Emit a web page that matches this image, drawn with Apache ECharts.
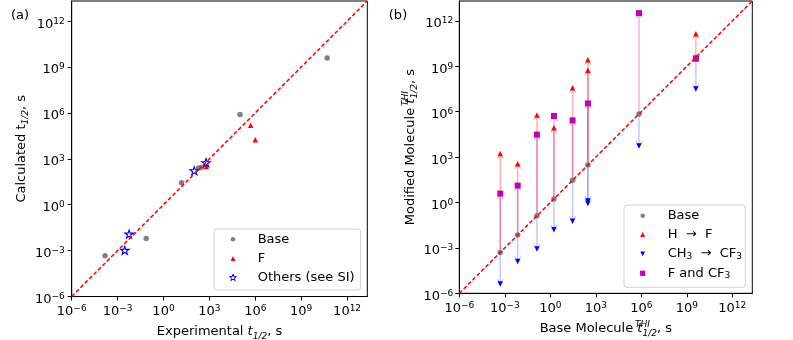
<!DOCTYPE html>
<html>
<head>
<meta charset="utf-8">
<script src="https://cdn.jsdelivr.net/npm/echarts@6/dist/echarts.min.js"></script>
<style>
  html, body { margin: 0; padding: 0; background: #fff; }
  #chart { width: 793px; height: 340px; }
</style>
</head>
<body>
<div id="chart"></div>
<script>
// every value is log10 of a half-life in seconds

// (a) experimental vs calculated t1/2
const aBaseX = [-3.82, -1.13, 1.18, 2.3, 2.47, 5.0, 10.7];
const aBaseY = [-3.33, -2.2, 1.44, 2.4, 2.44, 5.9, 9.6];
const aFX = [2.8, 5.7, 6.0];
const aFY = [2.5, 5.2, 4.25];
const aOthersX = [-2.53, -2.25, 2.01, 2.78];
const aOthersY = [-2.98, -1.92, 2.22, 2.75];

// (b) base molecule vs modified molecule (THI)
const bBase = [-3.3, -2.15, -0.88, 0.24, 1.47, 2.48, 5.85, 9.6];
const bHFX = [-3.3, -2.15, -0.88, 0.24, 1.47, 2.48, 2.48, 9.6];
const bHFY = [3.24, 2.57, 5.79, 4.95, 7.59, 9.43, 8.75, 11.16];
const bCF3X = [-3.3, -2.15, -0.88, 0.24, 1.47, 2.48, 2.48, 5.85, 9.6];
const bCF3Y = [-5.38, -3.9, -3.07, -1.8, -1.23, -0.07, 0.1, 3.73, 7.5];
const bBothX = [-3.3, -2.15, -0.88, 0.24, 1.47, 2.48, 5.85, 9.6];
const bBothY = [0.59, 1.12, 4.49, 5.72, 5.43, 6.55, 12.52, 9.5];

const tickExps = [-6, -3, 0, 3, 6, 9, 12];
const aLegendLabels = ['Base', 'F', 'Others (see SI)'];
const bLegendLabels = ['Base', 'H  \u2192  F', 'CH{s|3}  \u2192  CF{s|3}', 'F and CF{s|3}'];

const axisMin = -6;
const axisMax = 13.32;

const font = 'DejaVu Sans';
const fs = 13;
const pair = (xs, ys) => xs.map((x, i) => [x, ys[i]]);

const triUp = 'path://M0,0L1,2L-1,2Z';
const triDown = 'path://M-1,0L1,0L0,2Z';
const square = 'path://M0,0L1,0L1,1L0,1Z';
const starPts = [[0, -10], [2.245, -3.09], [9.51, -3.09], [3.633, 1.18], [5.88, 8.09], [0, 3.82],
  [-5.88, 8.09], [-3.633, 1.18], [-9.51, -3.09], [-2.245, -3.09]];
const star = 'path://M' + starPts.map(p => p.join(',')).join('L') + 'Z';

const colors = { base: '#808080', f: '#ff0000', cf3: '#0000ff', both: '#bf00bf', others: '#0000ff' };

function powLabel(v) {
  const e = Math.round(v);
  return '{b|10}{e|' + (e < 0 ? '\u2212' + (-e) : String(e)) + '}';
}
const tickRich = {
  b: { fontFamily: font, fontSize: fs, lineHeight: 16, padding: [6, 0, 0, 0], color: '#000' },
  e: { fontFamily: font, fontSize: 9, lineHeight: 16, color: '#000' }
};
const nameRich = {
  it: { fontFamily: font, fontSize: fs, fontStyle: 'italic', lineHeight: 18, color: '#000' },
  sub: { fontFamily: font, fontSize: 9, fontStyle: 'italic', verticalAlign: 'bottom', lineHeight: 18, color: '#000' },
  sup: { fontFamily: font, fontSize: 9, fontStyle: 'italic', verticalAlign: 'top', lineHeight: 18, width: 0, align: 'left', color: '#000' }
};

function axis(gridIndex, name, nameGap, labelMargin) {
  return {
    type: 'value', gridIndex: gridIndex, min: axisMin, max: axisMax,
    name: name, nameLocation: 'middle', nameGap: nameGap,
    nameTextStyle: { fontFamily: font, fontSize: fs, lineHeight: 18, color: '#000', rich: nameRich },
    axisLine: { show: true, onZero: false, lineStyle: { color: '#000', width: 1 } },
    axisTick: { show: true, length: 4, customValues: tickExps, lineStyle: { color: '#000', width: 1 } },
    axisLabel: { customValues: tickExps, formatter: powLabel, rich: tickRich, margin: labelMargin, fontFamily: font, fontSize: fs, color: '#000' },
    splitLine: { show: false }
  };
}

function arrowRender(color) {
  return function (params, api) {
    const x = api.value(0);
    const p0 = api.coord([x, x]);
    const p1 = api.coord([x, api.value(1)]);
    const dir = p1[1] > p0[1] ? 1 : -1;
    const h = 5, w = 3.2;
    return {
      type: 'group',
      children: [
        { type: 'line', shape: { x1: p0[0], y1: p0[1], x2: p1[0], y2: p1[1] },
          style: { stroke: color, lineWidth: 1.5 } },
        { type: 'polyline', shape: { points: [[p1[0] - w, p1[1] - dir * h], [p1[0], p1[1]], [p1[0] + w, p1[1] - dir * h]] },
          style: { stroke: color, fill: 'none', lineWidth: 1.2 } }
      ]
    };
  };
}

// legend glyphs, drawn as graphic elements
function glyph(kind, cx, cy) {
  const z = 101;
  if (kind === 'circle') return { type: 'circle', z, shape: { cx, cy, r: 2.3 }, style: { fill: colors.base } };
  if (kind === 'up') return { type: 'polygon', z, shape: { points: [[cx, cy - 2.4], [cx + 2.4, cy + 2.4], [cx - 2.4, cy + 2.4]] }, style: { fill: colors.f } };
  if (kind === 'down') return { type: 'polygon', z, shape: { points: [[cx - 2.4, cy - 2.4], [cx + 2.4, cy - 2.4], [cx, cy + 2.4]] }, style: { fill: colors.cf3 } };
  if (kind === 'square') return { type: 'rect', z, shape: { x: cx - 2.6, y: cy - 2.6, width: 5.2, height: 5.2 }, style: { fill: colors.both } };
  return { type: 'polygon', z, shape: { points: starPts.map(p => [cx + p[0] * 0.36, cy + p[1] * 0.36]) },
    style: { fill: '#fff', stroke: colors.others, lineWidth: 1 } };
}
function legendBox(box, kinds, labels, rowYs, markerX, textX) {
  const els = [{ type: 'rect', z: 100, shape: { x: box[0], y: box[1], width: box[2], height: box[3], r: 3 },
    style: { fill: 'rgba(255,255,255,0.8)', stroke: '#d0d0d0', lineWidth: 1 } }];
  labels.forEach((label, i) => {
    els.push(glyph(kinds[i], markerX, rowYs[i]));
    els.push({ type: 'text', z: 101, x: textX, y: rowYs[i], style: {
      text: label, fontFamily: font, fontSize: fs, fill: '#000', lineHeight: 14,
      align: 'left', verticalAlign: 'middle',
      rich: { s: { fontFamily: font, fontSize: 9, fill: '#000', verticalAlign: 'bottom', lineHeight: 14 } }
    } });
  });
  return els;
}

const diag = [[axisMin, axisMin], [axisMax, axisMax]];
const diagStyle = { color: '#ff0000', width: 1.5, type: [4, 2.2] };

const chart = echarts.init(document.getElementById('chart'), null, { renderer: 'canvas' });
chart.setOption({
  animation: false,
  backgroundColor: '#fff',
  textStyle: { fontFamily: font },
  graphic: [
    { type: 'text', x: 20, y: 16, style: { text: '(a)', fontFamily: font, fontSize: fs, fill: '#000', align: 'center', verticalAlign: 'middle' } },
    { type: 'text', x: 398, y: 16, style: { text: '(b)', fontFamily: font, fontSize: fs, fill: '#000', align: 'center', verticalAlign: 'middle' } }
  ].concat(
    legendBox([214, 229, 146.7, 61], ['circle', 'up', 'star'], aLegendLabels, [239.3, 258.5, 277.7], 233, 257.7),
    legendBox([624, 205, 121.3, 82.3], ['circle', 'up', 'down', 'square'], bLegendLabels, [215.7, 234.5, 253.8, 273.3], 642.7, 667.7)
  ),
  grid: [
    { left: 71.7, top: 1, width: 295.6, height: 295.5, show: true, borderColor: '#000', borderWidth: 1, outerBoundsMode: 'none' },
    { left: 459.3, top: 1, width: 293, height: 292.3, show: true, borderColor: '#000', borderWidth: 1, outerBoundsMode: 'none' }
  ],
  xAxis: [
    axis(0, 'Experimental {it|t}{sub|1/2}, s', 21, 4),
    axis(1, 'Base Molecule {it|t}{sup|THI}{sub|1/2}, s', 22, 4)
  ],
  yAxis: [
    axis(0, 'Calculated t{sub|1/2}, s', 41.5, 7),
    axis(1, 'Modified Molecule {it|t}{sup|THI}{sub|1/2}, s', 35, 6)
  ],
  series: [
    // panel (a)
    { type: 'line', xAxisIndex: 0, yAxisIndex: 0, data: diag, symbol: 'none', lineStyle: diagStyle, silent: true },
    { name: 'Base', type: 'scatter', xAxisIndex: 0, yAxisIndex: 0, data: pair(aBaseX, aBaseY),
      symbol: 'circle', symbolSize: 5.5, itemStyle: { color: colors.base, opacity: 1 } },
    { name: 'F', type: 'scatter', xAxisIndex: 0, yAxisIndex: 0, data: pair(aFX, aFY),
      symbol: triUp, symbolKeepAspect: true, symbolSize: 5.5, itemStyle: { color: colors.f, opacity: 1 } },
    { name: 'Others (see SI)', type: 'scatter', xAxisIndex: 0, yAxisIndex: 0, data: pair(aOthersX, aOthersY),
      symbol: star, symbolKeepAspect: true, symbolSize: 8.5,
      itemStyle: { color: 'rgba(255,255,255,0)', borderColor: colors.others, borderWidth: 1.1, opacity: 1 } },

    // panel (b) arrows from each base molecule to its modified versions
    { type: 'custom', xAxisIndex: 1, yAxisIndex: 1, data: pair(bHFX, bHFY), renderItem: arrowRender('rgba(255,0,0,0.3)'), silent: true },
    { type: 'custom', xAxisIndex: 1, yAxisIndex: 1, data: pair(bBothX, bBothY), renderItem: arrowRender('rgba(191,0,191,0.3)'), silent: true },
    { type: 'custom', xAxisIndex: 1, yAxisIndex: 1, data: pair(bCF3X, bCF3Y), renderItem: arrowRender('rgba(0,0,255,0.22)'), silent: true },
    { type: 'line', xAxisIndex: 1, yAxisIndex: 1, data: diag, symbol: 'none', lineStyle: diagStyle, silent: true },
    { name: 'Base ', type: 'scatter', xAxisIndex: 1, yAxisIndex: 1, data: pair(bBase, bBase),
      symbol: 'circle', symbolSize: 5.5, itemStyle: { color: colors.base, opacity: 1 } },
    { name: 'H \u2192 F', type: 'scatter', xAxisIndex: 1, yAxisIndex: 1, data: pair(bHFX, bHFY),
      symbol: triUp, symbolKeepAspect: true, symbolSize: 5.5, itemStyle: { color: colors.f, opacity: 1 } },
    { name: 'CH3 \u2192 CF3', type: 'scatter', xAxisIndex: 1, yAxisIndex: 1, data: pair(bCF3X, bCF3Y),
      symbol: triDown, symbolKeepAspect: true, symbolSize: 5.5, itemStyle: { color: colors.cf3, opacity: 1 } },
    { name: 'F and CF3', type: 'scatter', xAxisIndex: 1, yAxisIndex: 1, data: pair(bBothX, bBothY),
      symbol: square, symbolKeepAspect: true, symbolSize: 6, itemStyle: { color: colors.both, opacity: 1 } }
  ]
});
</script>
</body>
</html>
